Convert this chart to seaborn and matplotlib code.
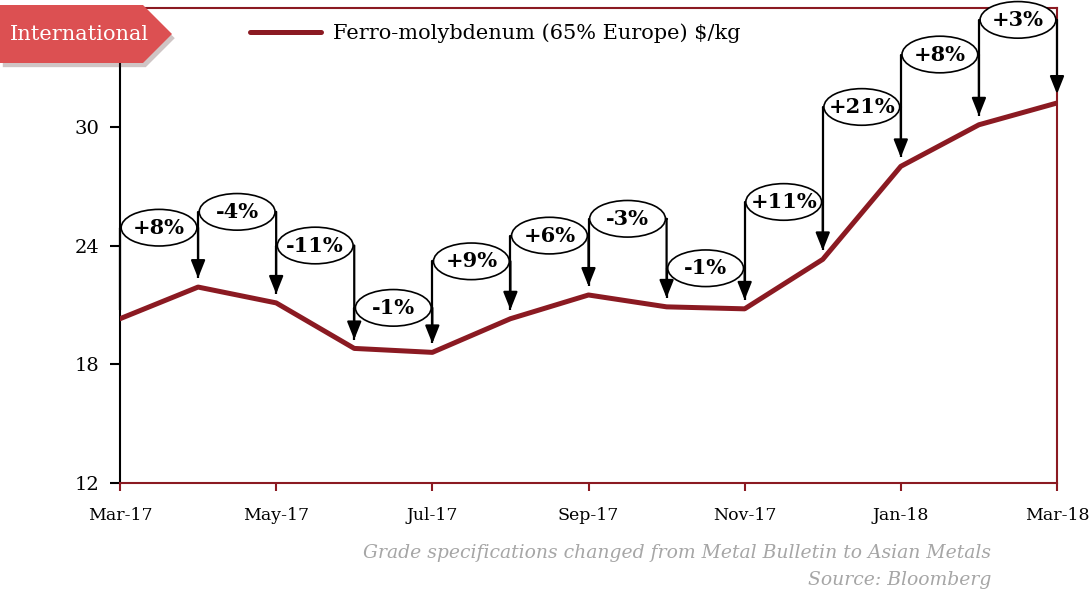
import matplotlib
matplotlib.use("Agg")
import matplotlib.pyplot as plt
import matplotlib.patheffects as pe
from matplotlib.patches import Ellipse, Polygon
import seaborn as sns
import pandas as pd

# ── Data ─────────────────────────────────────────────────────────────────────
months = ["Mar-17", "Apr-17", "May-17", "Jun-17", "Jul-17", "Aug-17", "Sep-17",
          "Oct-17", "Nov-17", "Dec-17", "Jan-18", "Feb-18", "Mar-18"]
prices = [20.3, 21.9, 21.1, 18.8, 18.6, 20.3, 21.5, 20.9, 20.8, 23.3, 28.0, 30.1, 31.2]
changes = ["+8%", "-4%", "-11%", "-1%", "+9%", "+6%", "-3%", "-1%",
           "+11%", "+21%", "+8%", "+3%"]
bracket_tops = [24.9, 25.7, 24.0, 20.85, 23.2, 24.5, 25.35, 22.85,
                26.2, 31.0, 33.65, 35.4]
y_ticks = [12, 18, 24, 30]

RED = "#8b1a22"
BADGE = "#dc5052"

sns.set_theme(style="white")
plt.rcParams.update({
    "font.family": ["DejaVu Serif"],
    "text.color": "black",
    "xtick.labelcolor": "black",
    "ytick.labelcolor": "black",
})

W, H = 1089, 594
fig = plt.figure(figsize=(W / 100, H / 100), dpi=100)
ax = fig.add_axes([120 / W, 1 - 483 / H, 937 / W, 475 / H])

df = pd.DataFrame({"pos": range(len(months)), "price": prices})
sns.lineplot(data=df, x="pos", y="price", ax=ax, color=RED, lw=3.6,
             label="Ferro-molybdenum (65% Europe) $/kg", zorder=5)

# ── change brackets ──────────────────────────────────────────────────────────
gap = 0.45
for i, (lab, top) in enumerate(zip(changes, bracket_tops)):
    x0, x1 = i, i + 1
    ax.plot([x0, x0], [prices[i] + gap, top], color="black", lw=1.6,
            solid_capstyle="butt", zorder=3, clip_on=False)
    ax.plot([x0, x1], [top, top], color="black", lw=1.6, zorder=3, clip_on=False)
    ax.annotate("", xy=(x1, prices[i + 1] + gap), xytext=(x1, top),
                arrowprops=dict(arrowstyle="-|>,head_length=0.45,head_width=0.18",
                                color="black", lw=1.6, mutation_scale=24,
                                shrinkA=0, shrinkB=0),
                zorder=4, annotation_clip=False)
    ax.add_patch(Ellipse(((x0 + x1) / 2, top), width=0.97, height=1.85,
                         facecolor="white", edgecolor="black", lw=1.2,
                         zorder=6, clip_on=False))
    ax.text((x0 + x1) / 2, top, lab, ha="center", va="center", color="black",
            fontsize=15, fontweight="bold", zorder=7)

# ── axes styling ─────────────────────────────────────────────────────────────
ax.set_xlim(0, len(months) - 1)
ax.set_ylim(12, 36)
ax.set_xticks(range(0, len(months), 2))
ax.set_xticklabels(months[::2])
ax.set_yticks(y_ticks)
ax.set_xlabel("")
ax.set_ylabel("")

for side in ["top", "right", "bottom"]:
    ax.spines[side].set_color(RED)
    ax.spines[side].set_linewidth(1.5)
ax.spines["left"].set_color("black")
ax.spines["left"].set_linewidth(1.5)

ax.tick_params(axis="y", direction="out", length=7, width=1.5, color="black",
               labelsize=14, pad=8, left=True)
ax.tick_params(axis="x", direction="out", length=6, width=1.5, color=RED,
               labelsize=12.5, pad=11, bottom=True)

ax.legend(loc="center left", bbox_to_anchor=(130 / 937, (483 - 33) / 475),
          frameon=False, fontsize=15, handlelength=3.4, handletextpad=0.6,
          borderpad=0, borderaxespad=0)

# ── "International" badge ────────────────────────────────────────────────────
pts = [(0, 5), (143, 5), (172, 34), (143, 63), (0, 63)]
badge = Polygon([(x / W, 1 - y / H) for x, y in pts], closed=True,
                transform=fig.transFigure, facecolor=BADGE, edgecolor="none",
                zorder=10)
badge.set_path_effects([pe.SimplePatchShadow(offset=(2, -3), alpha=0.25), pe.Normal()])
fig.add_artist(badge)
fig.text(79 / W, 1 - 34 / H, "International", color="white", fontsize=15,
         ha="center", va="center", zorder=11)

# ── footnotes ────────────────────────────────────────────────────────────────
fig.text(991 / W, 1 - 553 / H,
         "Grade specifications changed from Metal Bulletin to Asian Metals",
         ha="right", va="center", style="italic", color="#a6a6a6", fontsize=13.5)
fig.text(991 / W, 1 - 580 / H, "Source: Bloomberg",
         ha="right", va="center", style="italic", color="#a6a6a6", fontsize=13.5)

fig.savefig("out.png", dpi=100)
